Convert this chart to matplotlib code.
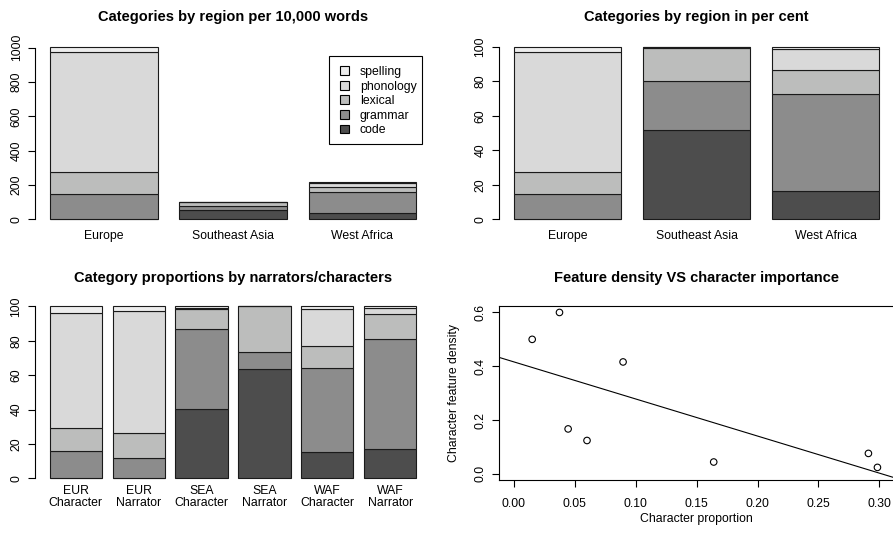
import numpy as np
import matplotlib
matplotlib.use("Agg")
import matplotlib.pyplot as plt
from matplotlib.patches import Patch, Rectangle

plt.rcParams['font.family'] = ['Liberation Sans', 'DejaVu Sans']
plt.rcParams['font.size'] = 8.8

# categories, bottom to top of each stack
categories = ['code', 'grammar', 'lexical', 'phonology', 'spelling']
cat_colors = ['#4d4d4d', '#8c8c8c', '#bcbdbc', '#d9d9d9', '#ededed']

regions = ['Europe', 'Southeast Asia', 'West Africa']
# per 10,000 words
reg_code = [0, 51.5, 35.5]
reg_grammar = [146, 28.3, 121.5]
reg_lexical = [131, 18.8, 30.0]
reg_phonology = [696, 0.3, 25.5]
reg_spelling = [31, 0.2, 2.6]

groups = ['EUR\nCharacter', 'EUR\nNarrator', 'SEA\nCharacter',
          'SEA\nNarrator', 'WAF\nCharacter', 'WAF\nNarrator']
# per cent
grp_code = [0, 0, 40.3, 63.4, 15.5, 17.2]
grp_grammar = [16.0, 12.0, 46.3, 10.2, 48.5, 63.6]
grp_lexical = [13.1, 14.2, 11.8, 26.4, 13.1, 14.9]
grp_phonology = [66.8, 71.2, 0.8, 0, 21.2, 3.5]
grp_spelling = [4.1, 2.6, 0.8, 0, 1.7, 0.8]

char_prop = [0.015, 0.0374, 0.0445, 0.060, 0.0896, 0.164, 0.291, 0.2984]
char_density = [0.500, 0.600, 0.167, 0.124, 0.416, 0.044, 0.076, 0.024]

W, H = 893, 534
fig = plt.figure(figsize=(W / 100, H / 100), dpi=100)


def px_axes(left, top, right, bottom):
    return fig.add_axes([left / W, 1 - bottom / H, (right - left) / W, (bottom - top) / H])


def r_style(ax, ymax, yticks):
    for s in ['top', 'right', 'bottom']:
        ax.spines[s].set_visible(False)
    ax.spines['left'].set_bounds(0, ymax)
    ax.spines['left'].set_linewidth(0.8)
    ax.set_yticks(yticks)
    ax.tick_params(axis='y', length=5, width=0.8, pad=4, labelrotation=90)
    for lab in ax.get_yticklabels():
        lab.set_va('center')
    ax.tick_params(axis='x', length=0, pad=3)


def stacked(ax, names, series, ymax, yticks, title, tpad):
    n = len(names)
    pos = 0.7 + np.arange(n) * 1.2
    bottom = np.zeros(n)
    for vals, col in zip(series, cat_colors):
        vals = np.array(vals, dtype=float)
        ax.bar(pos, vals, width=1.0, bottom=bottom, color=col,
               edgecolor='#1a1a1a', linewidth=0.8)
        bottom += vals
    span = pos[-1] + 0.5 - 0.2
    ax.set_xlim(0.2 - 0.04 * span, pos[-1] + 0.5 + 0.04 * span)
    ax.set_ylim(-0.04 * bottom.max(), 1.04 * bottom.max())
    ax.set_xticks(pos)
    ax.set_xticklabels(names)
    r_style(ax, ymax, yticks)
    ax.set_title(title, fontsize=10.5, fontweight='bold', pad=tpad)


# panel 1
ax1 = px_axes(35.3, 40.1, 431, 226.2)
reg_series = [reg_code, reg_grammar, reg_lexical, reg_phonology, reg_spelling]
stacked(ax1, regions, reg_series, 1000, [0, 200, 400, 600, 800, 1000],
        'Categories by region per 10,000 words', 13.5)
handles = [Patch(facecolor=c, edgecolor='black', linewidth=0.8, label=l)
           for c, l in zip(cat_colors[::-1], categories[::-1])]
leg = ax1.legend(handles=handles, loc='upper left',
                 bbox_to_anchor=(339.5 / W, 1 - 66 / H), bbox_transform=fig.transFigure,
                 frameon=False, handlelength=0.75, handleheight=0.75, labelspacing=0.21,
                 borderpad=0, handletextpad=0.9, borderaxespad=0)
fig.patches.append(Rectangle((329 / W, 1 - 144 / H), 92.7 / W, 88.3 / H,
                             transform=fig.transFigure, facecolor='none',
                             edgecolor='black', linewidth=0.8))

# panel 2
ax2 = px_axes(499, 40.1, 894, 226.2)
totals = np.sum(reg_series, axis=0)
pct_series = [np.array(s) / totals * 100 for s in reg_series]
stacked(ax2, regions, pct_series, 100, [0, 20, 40, 60, 80, 100],
        'Categories by region in per cent', 13.5)

# panel 3
ax3 = px_axes(35, 299.4, 431, 485.2)
grp_series = [grp_code, grp_grammar, grp_lexical, grp_phonology, grp_spelling]
stacked(ax3, groups, grp_series, 100, [0, 20, 40, 60, 80, 100],
        'Category proportions by narrators/characters', 12.5)
ax3.tick_params(axis='x', pad=-0.5)
for lab in ax3.get_xticklabels():
    lab.set_linespacing(1.1)

# panel 4
ax4 = px_axes(499.3, 306, 894, 480.3)
ax4.scatter(char_prop, char_density, s=22, facecolors='none', edgecolors='black', linewidths=0.8)
slope, intercept = np.polyfit(char_prop, char_density, 1)
ax4.axline((0, intercept), slope=slope, color='black', linewidth=0.8)
ax4.set_xlim(-0.012, 0.312)
ax4.set_ylim(-0.024, 0.624)
ax4.set_xticks(np.arange(0, 0.31, 0.05))
ax4.set_xticklabels(['%.2f' % v for v in np.arange(0, 0.31, 0.05)])
ax4.set_yticks([0, 0.2, 0.4, 0.6])
ax4.set_yticklabels(['0.0', '0.2', '0.4', '0.6'])
for s in ax4.spines.values():
    s.set_linewidth(0.8)
ax4.tick_params(axis='both', length=5.3, width=0.8, pad=4)
ax4.tick_params(axis='x', pad=7.5)
ax4.tick_params(axis='y', labelrotation=90)
for lab in ax4.get_yticklabels():
    lab.set_va('center')
ax4.set_xlabel('Character proportion', labelpad=2.3)
ax4.set_ylabel('Character feature density', labelpad=10.2)
ax4.set_title('Feature density VS character importance', fontsize=10.5, fontweight='bold', pad=17.6)

fig.savefig('out.png', dpi=100)
